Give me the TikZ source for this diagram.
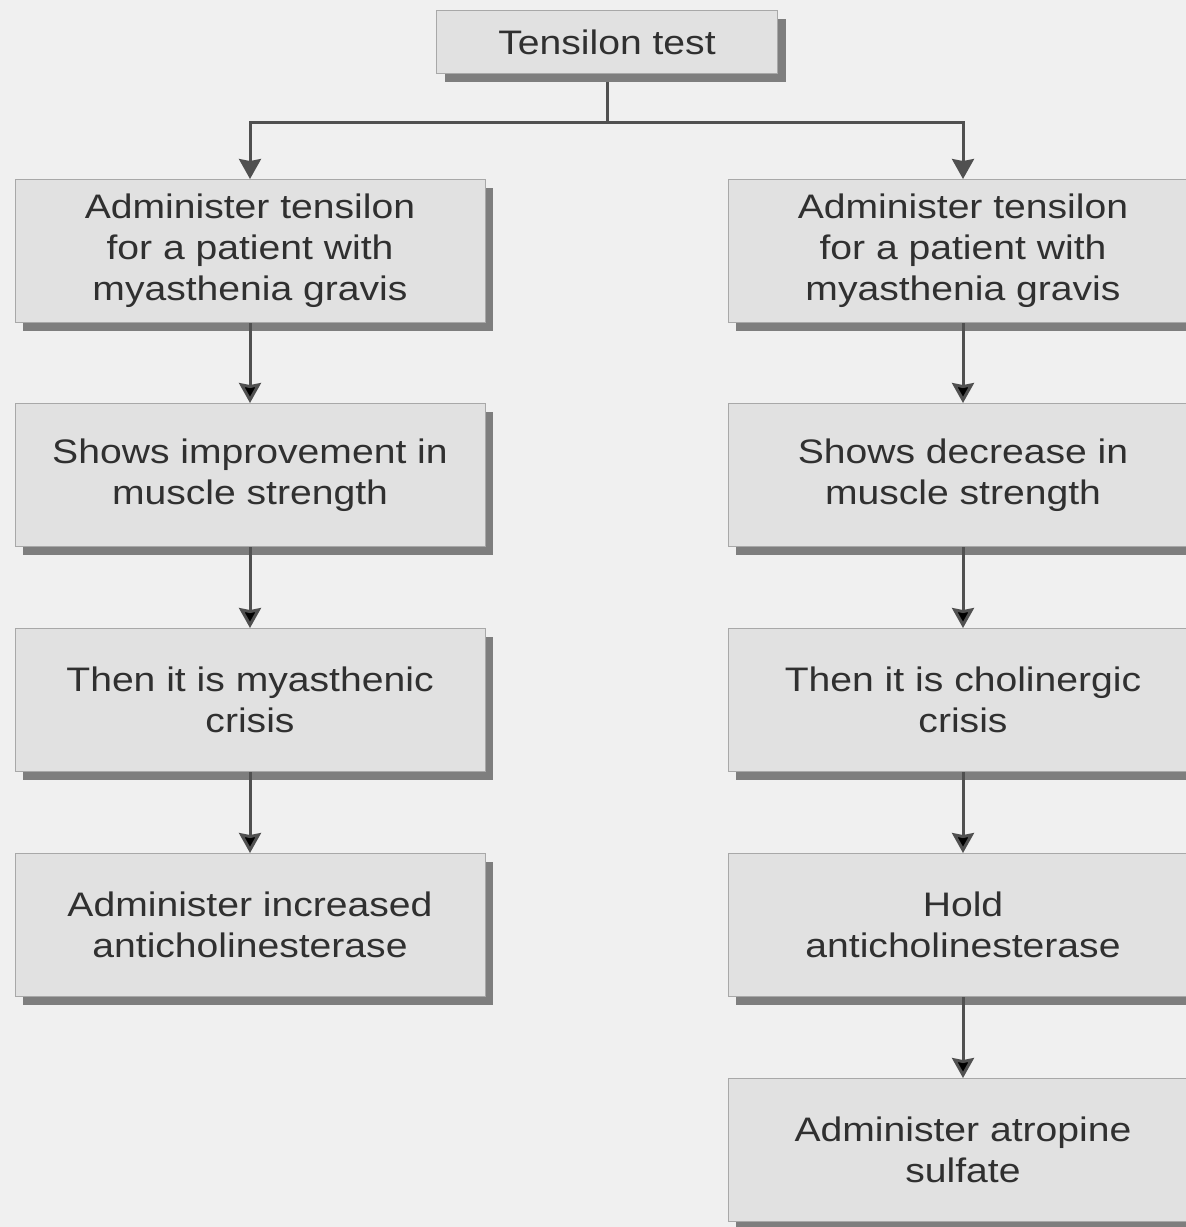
\documentclass[tikz,border=0pt]{standalone}
\usepackage{fontspec}
\setmainfont{Liberation Sans}[FakeStretch=1.15]
\usepackage{tikz}
\usetikzlibrary{arrows.meta}
\usetikzlibrary{shadows}
\usetikzlibrary{positioning}
\definecolor{pagebg}{HTML}{F0F0F0}
\definecolor{boxfill}{HTML}{E1E1E1}
\definecolor{boxline}{HTML}{A8A8A8}
\definecolor{boxshade}{HTML}{7E7E7E}
\definecolor{inkgray}{HTML}{505050}
\definecolor{txtgray}{HTML}{303030}

\begin{document}
\begin{tikzpicture}[x=1pt,y=-1pt,>={Stealth[length=20pt,width=22pt,inset=2pt]},
    line width=3pt,
    flow node/.style={rectangle,draw=boxline,line width=1pt,fill=boxfill,text=txtgray,
      align=center,font=\fontsize{34}{41}\selectfont,inner sep=0pt,
      drop shadow={shadow xshift=8pt,shadow yshift=-8pt,fill=boxshade,opacity=1}},
    step node/.style={flow node,minimum width=470pt,minimum height=143pt},
    head node/.style={flow node,minimum width=341pt,minimum height=63pt},
    link/.style={draw=inkgray,line width=3pt}]
   \useasboundingbox (0,0) rectangle (1186,1227);
   \fill[pagebg] (0,0) rectangle (1186,1227);
   \begin{scope}
     \clip (0,0) rectangle (1186,1227);
     \node[head node] (test) at (607,42) {Tensilon test};
     % left branch
     \node[step node] (l1) at (250,251) {Administer tensilon\\for a patient with\\myasthenia gravis};
     \node[step node] (l2) at (250,475) {Shows improvement in\\muscle strength};
     \node[step node] (l3) at (250,700) {Then it is myasthenic\\crisis};
     \node[step node] (l4) at (250,925) {Administer increased\\anticholinesterase};
     % right branch
     \node[step node] (r1) at (963,251) {Administer tensilon\\for a patient with\\myasthenia gravis};
     \node[step node] (r2) at (963,475) {Shows decrease in\\muscle strength};
     \node[step node] (r3) at (963,700) {Then it is cholinergic\\crisis};
     \node[step node] (r4) at (963,925) {Hold\\anticholinesterase};
     \node[step node] (r5) at (963,1150) {Administer atropine\\sulfate};
     \coordinate (split) at (607,122);
      \path[link] (test.south) ++(0,-8pt) coordinate (tbot);
      \path[link] (tbot) edge (split);
      \draw[link,->] (split) -| (l1);
      \draw[link,->] (split) -| (r1);
      \path[link,->] (l1) edge (l2);
      \path[link,->] (l2) edge (l3);
      \path[link,->] (l3) edge (l4);
      \path[link,->] (r1) edge (r2);
      \path[link,->] (r2) edge (r3);
      \path[link,->] (r3) edge (r4);
      \path[link,->] (r4) edge (r5);
   \end{scope}
  \end{tikzpicture}
\end{document}
